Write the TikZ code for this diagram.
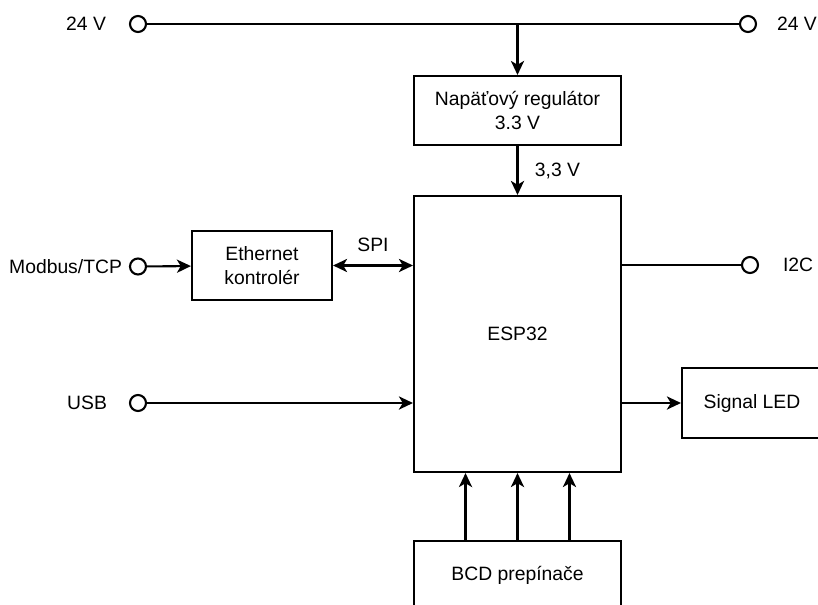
\documentclass[tikz,border=0pt]{standalone}
\usepackage{fontspec}
\setmainfont{Liberation Sans}
\usetikzlibrary{arrows.meta}

\begin{document}
\begin{tikzpicture}[
    x=0.02cm, y=-0.02cm,
    line width=1.2pt,
    font=\fontsize{11}{13.5}\selectfont,
    block/.style={draw, align=center, inner sep=0pt},
    term/.style={draw, circle, fill=white, minimum size=0.32cm, inner sep=0pt},
    lbl/.style={inner sep=0pt},
    arrow/.style={-{Stealth[length=8pt, width=7.5pt, inset=2.2pt]}},
    biarrow/.style={{Stealth[length=8pt, width=7.5pt, inset=2.2pt]}-{Stealth[length=8pt, width=7.5pt, inset=2.2pt]}}
]
\clip (0,0) rectangle (818,605);
\node[block, minimum width=4.14cm, minimum height=1.38cm] (reg) at (517.5,110.5) {Napäťový regulátor\\3.3 V};
\node[block, minimum width=4.14cm, minimum height=5.52cm] (esp) at (517.5,334) {ESP32};
\node[block, minimum width=2.8cm, minimum height=1.38cm] (eth) at (262,265.5) {Ethernet\\kontrolér};
\node[block, minimum width=2.8cm, minimum height=1.4cm] (led) at (752,403) {Signal LED};
\node[block, minimum width=4.14cm, minimum height=1.38cm] (bcd) at (517.5,575.5) {BCD prepínače};

\node[term] (inL) at (138,24) {};
\node[term] (inR) at (748,24) {};
\node[term] (modbus) at (138,266.5) {};
\node[term] (usb) at (138,403) {};
\node[term] (i2c) at (750,265) {};

\node[lbl, anchor=east] (inLtxt) at (107,24) {24 V};
\node[lbl, anchor=west] (inRtxt) at (776,24) {24 V};
\node[lbl, anchor=east] (modbustxt) at (123,266.5) {Modbus/TCP};
\node[lbl, anchor=east] (usbtxt) at (108,403) {USB};
\node[lbl, anchor=west] (i2ctxt) at (782,265) {I2C};

\coordinate (tap) at (517.5,24);
\draw (inL) -- (inR);
\draw[arrow] (tap) -- (reg);
\draw[arrow] (reg) -- node[right, xshift=6pt] {3,3 V} (esp);
\draw[arrow] (modbus) -- (eth);
\draw[biarrow] (eth.east) -- node[above, yshift=4pt] {SPI} (eth.east -| esp.west);
\draw[arrow] (usb) -- (usb -| esp.west);
\draw (i2c -| esp.east) -- (i2c);
\draw[arrow] (led -| esp.east) -- (led);
\foreach \dx in {-1.04,0,1.04}
    \draw[arrow] ([xshift=\dx cm]bcd.north) -- ([xshift=\dx cm]esp.south);
\end{tikzpicture}
\end{document}
